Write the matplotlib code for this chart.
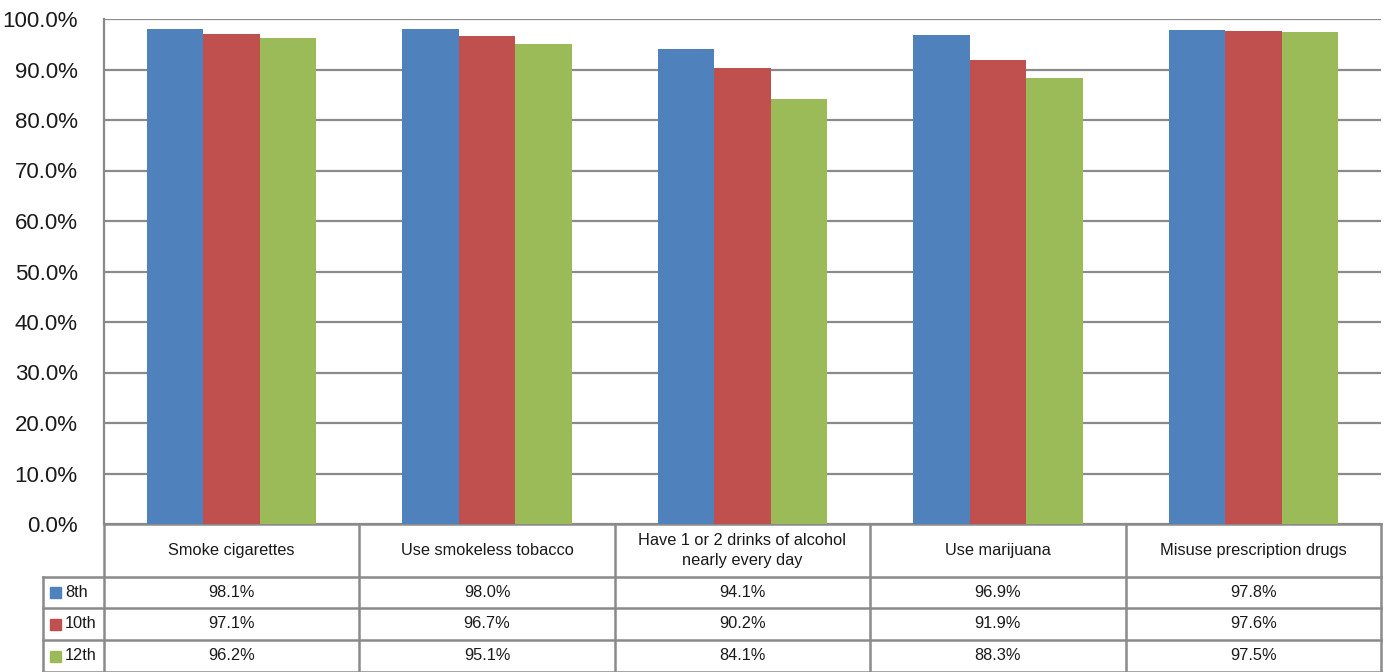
import matplotlib
matplotlib.use("Agg")
from matplotlib import pyplot as plt
from matplotlib import transforms
import numpy as np

plt.rcParams['font.family'] = ['Liberation Sans', 'DejaVu Sans']

categories = ["Smoke cigarettes", "Use smokeless tobacco",
              "Have 1 or 2 drinks of alcohol\nnearly every day",
              "Use marijuana", "Misuse prescription drugs"]
grades = ["8th", "10th", "12th"]
grade_8 = [98.1, 98.0, 94.1, 96.9, 97.8]
grade_10 = [97.1, 96.7, 90.2, 91.9, 97.6]
grade_12 = [96.2, 95.1, 84.1, 88.3, 97.5]
y_ticks = [0, 10, 20, 30, 40, 50, 60, 70, 80, 90, 100]

series = [grade_8, grade_10, grade_12]
colors = ['#4F81BD', '#C0504D', '#9BBB59']
grid_c = '#8a8a8a'
txt_c = '#1a1a1a'

W, H = 1384, 672
fig = plt.figure(figsize=(W / 100, H / 100), dpi=100)

# pixel layout of the plot area
left, right, top, bottom = 104, 1381, 19, 524
ax = fig.add_axes([left / W, (H - bottom) / H, (right - left) / W, (bottom - top) / H])

# overlay axes in pixel coords (y downwards) for the data table
ov = fig.add_axes([0, 0, 1, 1], zorder=-1)
ov.set_xlim(0, W)
ov.set_ylim(H, 0)
ov.axis('off')

x = np.arange(len(categories))
bw = 0.221
for i, (vals, c) in enumerate(zip(series, colors)):
	ax.bar(x + (i - 1) * bw, vals, bw, color=c, edgecolor='none', zorder=3)

ax.set_xlim(-0.5, len(categories) - 0.5)
ax.set_ylim(0, 100)
ax.set_yticks(y_ticks)
ax.set_yticklabels(["%.1f%%" % v for v in y_ticks], fontsize=16, color=txt_c)
ax.tick_params(axis='y', length=0, pad=19)
ax.set_xticks([])
ax.grid(axis='y', color=grid_c, lw=1.6, zorder=0)
for s in ['top', 'right', 'bottom']:
	ax.spines[s].set_visible(False)
ax.spines['left'].set_color(grid_c)
ax.spines['left'].set_linewidth(1.6)

# data table under the chart
tr = transforms.blended_transform_factory(ax.transData, ov.transData)
rows = [524, 577, 608, 640, 672]
n = len(categories)
lkw = dict(color=grid_c, lw=1.8, clip_on=False)

# horizontal lines
ov.plot([left, right], [rows[0], rows[0]], **lkw)
for yy in rows[1:]:
	ov.plot([43, right], [yy, yy], **lkw)
# vertical lines
for b in np.arange(n + 1) - 0.5:
	ov.plot([b, b], [rows[0], rows[-1]], transform=tr, **lkw)
ov.plot([43, 43], [rows[1], rows[-1]], **lkw)

# header text
hy = (rows[0] + rows[1]) / 2
for i, cat in enumerate(categories):
	ov.text(i, hy, cat, transform=tr, ha='center', va='center',
	        fontsize=11.8, color=txt_c, linespacing=1.4)

# values and legend keys
for r, (g, vals, c) in enumerate(zip(grades, series, colors)):
	cy = (rows[r + 1] + rows[r + 2]) / 2
	ov.add_patch(plt.Rectangle((50, cy - 5.5), 11, 11, color=c, clip_on=False))
	ov.text(65, cy, g, ha='left', va='center', fontsize=11.8, color=txt_c)
	for i, v in enumerate(vals):
		ov.text(i, cy, "%.1f%%" % v, transform=tr, ha='center', va='center',
		        fontsize=11.8, color=txt_c)

fig.savefig('out.png', dpi=100)
